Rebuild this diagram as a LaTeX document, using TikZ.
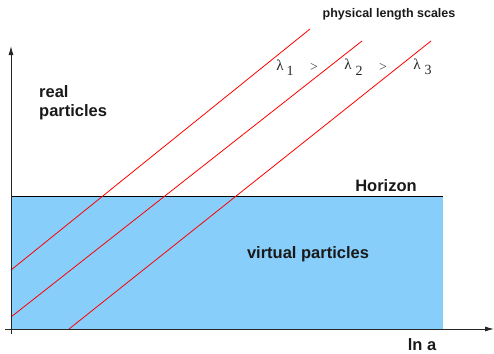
\documentclass[tikz,border=0pt]{standalone}
\usepackage{fontspec}
\setmainfont{Liberation Sans}
\newfontfamily\serifgr{Liberation Serif}
\usetikzlibrary{arrows.meta}
\definecolor{skyfill}{RGB}{135,206,250}
\tikzset{
  axis/.style={line width=0.9pt, draw=black!85, -{Latex[length=9pt,width=5pt]}},
  redline/.style={draw=red, line width=0.8pt},
  lbl/.style={font=\fontsize{16.5}{19}\selectfont\bfseries, inner sep=0pt, text=black!90},
  small/.style={font=\fontsize{12.5}{14}\selectfont\bfseries, inner sep=0pt, text=black!90},
  lam/.style={font=\serifgr\fontsize{15}{17}\selectfont, inner sep=0pt, text=black!85},
  sub/.style={font=\serifgr\fontsize{14}{16}\selectfont, inner sep=0pt, text=black!85},
  gt/.style={font=\serifgr\fontsize{14}{16}\selectfont, inner sep=0pt, text=black!75}
}
\begin{document}
\begin{tikzpicture}[x=1pt,y=-1pt]
\useasboundingbox (0,0) rectangle (494,353);
% region
\coordinate (bl) at (11,329);
\coordinate (tr) at (443,196);
\fill[skyfill] (bl) rectangle (tr);
\coordinate (hl) at (11,196);
\coordinate (hr) at (443,196);
\draw[line width=0.9pt] (hl) -- (hr);
% red lines
\coordinate (a1) at (11,270);  \coordinate (b1) at (310,29);
\coordinate (a2) at (11,317);  \coordinate (b2) at (362,41);
\coordinate (a3) at (69,329);  \coordinate (b3) at (431,41);
\draw[redline] (a1) -- (b1);
\draw[redline] (a2) -- (b2);
\draw[redline] (a3) -- (b3);
% axes
\coordinate (yo) at (11,334);
\coordinate (yt) at (11,46);
\coordinate (xo) at (5,329);
\coordinate (xt) at (494,329);
\draw[axis] (yo) -- (yt);
\draw[axis] (xo) -- (xt);
% labels
\node[small] (pls) at (389,14) {physical length scales};
\node[lam] (l1) at (280,65) {λ};
\node[sub] (s1) at (290,71) {1};
\node[gt] (g1) at (314,67) {>};
\node[lam] (l2) at (348,64) {λ};
\node[sub] (s2) at (359,71) {2};
\node[gt] (g2) at (383,67) {>};
\node[lam] (l3) at (417,64) {λ};
\node[sub] (s3) at (428,70) {3};
\node[lbl, anchor=west, align=left] (real) at (39,103) {real\\particles};
\node[lbl] (hor) at (386,186) {Horizon};
\node[lbl] (virt) at (308,254) {virtual particles};
\node[lbl] (lna) at (422,345) {ln a};
\end{tikzpicture}
\end{document}
